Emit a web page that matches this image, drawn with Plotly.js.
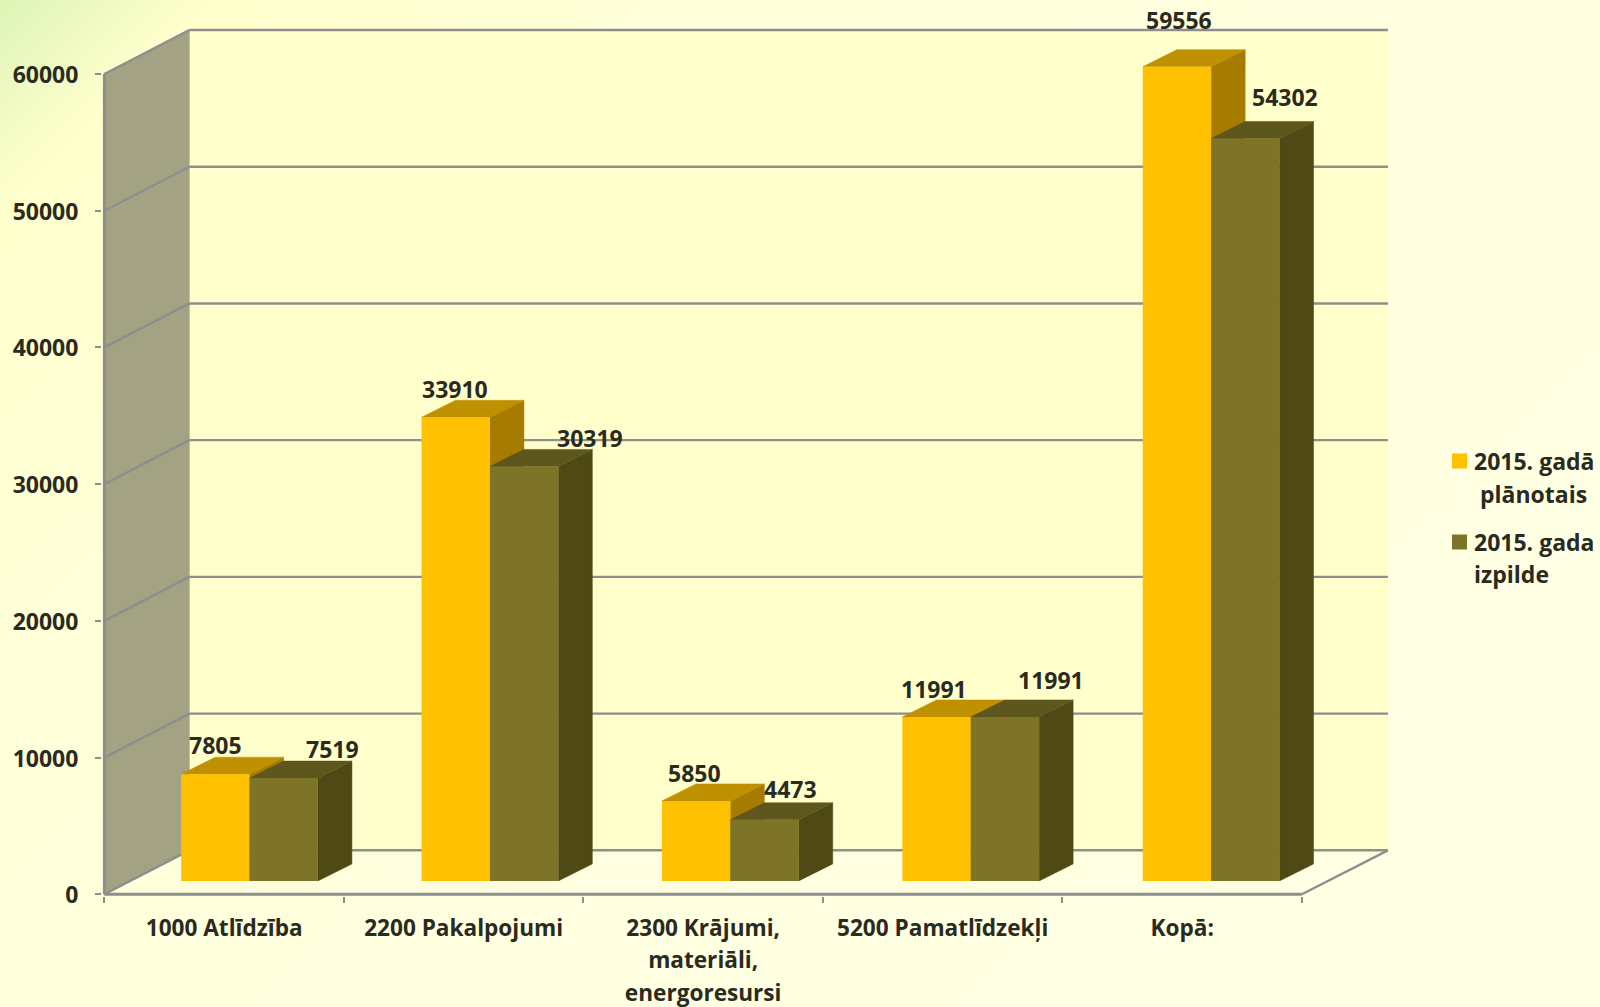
<!DOCTYPE html>
<html>
<head>
<meta charset="utf-8">
<script src="https://cdn.plot.ly/plotly-3.0.1.min.js"></script>
<style>
html,body{margin:0;padding:0;width:1600px;height:1007px;overflow:hidden;
background:linear-gradient(135deg,#DDF4B6 0%,#FFFFCD 8%,#FFFFD8 25%,#FFFFE2 60%,#FFFFE4 100%);}
#chart{width:1600px;height:1007px;}
</style>
</head>
<body>
<div id="chart"></div>
<script>
// ---------- data ----------
const categories = ["1000 Atlīdzība", "2200 Pakalpojumi", "2300 Krājumi,<br>materiāli,<br>energoresursi", "5200 Pamatlīdzekļi", "Kopā:"];
const seriesNames = ["2015. gadā<br>&nbsp;plānotais", "2015. gada<br>izpilde"];
const planned = [7805, 33910, 5850, 11991, 59556];
const actual = [7519, 30319, 4473, 11991, 54302];
const yTicks = [0, 10000, 20000, 30000, 40000, 50000, 60000];

// ---------- look ----------
const FONT = "Open Sans, sans-serif", FS = 23, FS_X = 22.6, INK = "#2B2A1F", LINE = "#8E8E8E";
const C = {
  pf:"#FFC000", pt:"#BF9000", ps:"#A67C00",
  af:"#7E7427", at:"#5D571D", as:"#4F4A15",
  wall:"#A3A283", back:"#FFFFCC"
};
// oblique projection, in axis units
const WALL_DX = 0.3549, WALL_DY = 3218;   // depth of the chart box
const BAR_DX = 0.142, BAR_DY = 1244;      // depth of one bar
const FLOOR_BASE = 980, BAR_W = 0.2855, BAR_SHIFT = 0.106, BAR_DRIFT = 0.00376;
const XL = -0.5, XR = 4.859, X_FRONT_R = 4.5;
// label nudges in pixels, as placed in the source chart
const LABEL_OFF = [-0.1792, 0.1088];
const nudgeP = [[0,29],[0,28],[0,28],[0,28],[6,47]];
const nudgeA = [[48.5,29],[66,28],[27.5,31],[48,37],[42.5,41]];

const poly = pts => "M" + pts.map(p => p[0] + "," + p[1]).join("L") + "Z";
const shapes = [];
const fillS = (pts, c) => shapes.push({type:"path", path:poly(pts), fillcolor:c, line:{color:c,width:0.5}, layer:"below", xref:"x", yref:"y"});
const lineS = (x0,y0,x1,y1,w) => shapes.push({type:"line", x0,y0,x1,y1, line:{color:LINE,width:w||2.4}, layer:"below", xref:"x", yref:"y"});

const yMax = yTicks[yTicks.length-1];
fillS([[XL+WALL_DX,WALL_DY],[XR,WALL_DY],[XR,yMax+WALL_DY],[XL+WALL_DX,yMax+WALL_DY]], C.back);
fillS([[XL,0],[XL+WALL_DX,WALL_DY],[XL+WALL_DX,yMax+WALL_DY],[XL,yMax]], C.wall);
yTicks.forEach(t => {
  lineS(XL,t,XL+WALL_DX,t+WALL_DY);
  lineS(XL+WALL_DX,t+WALL_DY,XR,t+WALL_DY);
});
lineS(XL,0,XL,yMax,3);
lineS(XL,0,X_FRONT_R,0,3);
lineS(X_FRONT_R,0,XR,WALL_DY);

function box(i, left, v, top, side){
  const xl = i+left, xr = xl+BAR_W, yb = FLOOR_BASE, yt = FLOOR_BASE+v;
  fillS([[xr,yb],[xr+BAR_DX,yb+BAR_DY],[xr+BAR_DX,yt+BAR_DY],[xr,yt]], side);
  fillS([[xl,yt],[xl+BAR_DX,yt+BAR_DY],[xr+BAR_DX,yt+BAR_DY],[xr,yt]], top);
}
const offP = categories.map((c,i)=>BAR_SHIFT-BAR_W+i*BAR_DRIFT);
const offA = categories.map((c,i)=>BAR_SHIFT+i*BAR_DRIFT);
categories.forEach((c,i)=>{
  box(i, offP[i], planned[i], C.pt, C.ps);
  box(i, offA[i], actual[i], C.at, C.as);
});

const annotations = [];
categories.forEach((c,i)=>{
  [[planned[i],LABEL_OFF[0],nudgeP[i]],[actual[i],LABEL_OFF[1],nudgeA[i]]].forEach(([v,off,n])=>{
    annotations.push({x:i+off+BAR_W/2, y:v+FLOOR_BASE, xref:"x", yref:"y", text:String(v), showarrow:false,
      xshift:n[0], yshift:n[1], xanchor:"center", yanchor:"middle", font:{family:FONT,size:FS,color:INK,weight:700}});
  });
});

const bar = (vals,off,col) => ({type:"bar", x:categories, y:vals, base:FLOOR_BASE, width:BAR_W, offset:off,
  marker:{color:col,line:{width:0}}, showlegend:false, hoverinfo:"x+y", cliponaxis:false});
const key = (name,col) => ({type:"scatter", mode:"markers", x:[null], y:[null], name, legendgroup:name,
  marker:{symbol:"square",size:15,color:col}, hoverinfo:"skip"});

const data = [bar(planned,offP,C.pf), bar(actual,offA,C.af), key(seriesNames[0],C.pf), key(seriesNames[1],C.af)];

const layout = {
  width:1600, height:1007, margin:{l:102,r:0,t:27,b:111,pad:0},
  paper_bgcolor:"rgba(0,0,0,0)", plot_bgcolor:"rgba(0,0,0,0)",
  font:{family:FONT,size:FS,color:INK,weight:700}, showlegend:true, barmode:"overlay",
  xaxis:{type:"category", categoryorder:"array", categoryarray:categories, range:[-0.51,5.7446], tickson:"boundaries",
    tickmode:"array", tickvals:categories, ticktext:categories,
    ticks:"outside", ticklen:6, tickwidth:2, tickcolor:LINE, showline:false, showgrid:false, zeroline:false,
    tickangle:0, ticklabelstandoff:16, tickfont:{family:FONT,size:FS_X,color:INK,weight:700}, fixedrange:true},
  yaxis:{range:[-124,63437], tickmode:"array", tickvals:yTicks, ticktext:yTicks.map(String),
    ticks:"outside", ticklen:6, tickwidth:2, tickcolor:LINE, showline:false, showgrid:false, zeroline:false,
    ticklabelstandoff:12, ticklabelshift:1, tickfont:{family:FONT,size:FS,color:INK,weight:700}, fixedrange:true},
  legend:{x:(1434-102)/1498, xanchor:"left", y:0.5251, yanchor:"top", traceorder:"grouped", tracegroupgap:18,
    bgcolor:"rgba(0,0,0,0)", font:{family:FONT,size:FS,color:INK,weight:700}, itemsizing:"trace"},
  shapes, annotations
};
Plotly.newPlot("chart", data, layout, {displayModeBar:false, staticPlot:true}).then(()=>{
  // the source's multi-line labels are set a little looser than Plotly's 1.3em
  const loosen = (sel,k) => document.querySelectorAll(sel).forEach(t=>{
    const dy = parseFloat(t.getAttribute("dy"));
    if (dy) t.setAttribute("dy", (dy*k)+"em");
  });
  loosen(".xtick tspan.line", 1.106);
  loosen(".legendtext tspan.line", 1.087);
  // legend swatches sit beside the first line of their entry
  document.querySelectorAll(".legend .legendsymbols").forEach(s=>s.setAttribute("transform","translate(5.5,-15)"));
});
</script>
</body>
</html>
